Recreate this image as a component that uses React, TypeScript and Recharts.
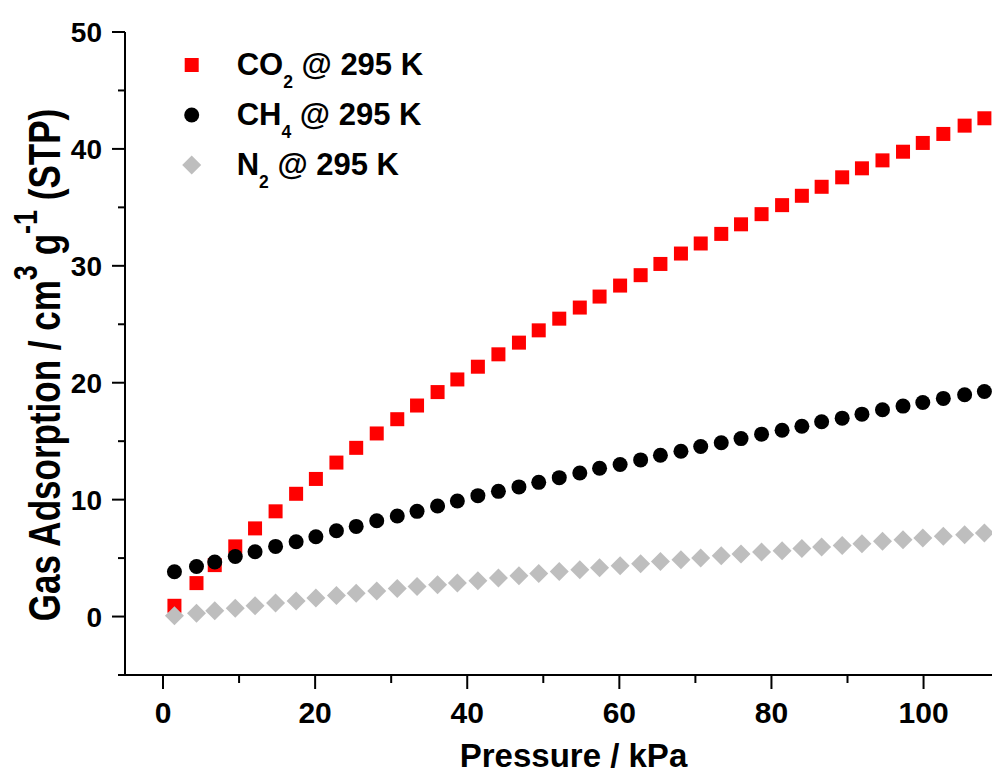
import React from 'react';
import { ScatterChart, Scatter, XAxis, YAxis, Legend, Label } from 'recharts';

// pressure (kPa) shared by all three isotherms
const pressure = [
  1.5, 4.4, 6.8, 9.5, 12.1, 14.8, 17.5, 20.1, 22.8, 25.4, 28.1, 30.8, 33.4, 36.1,
  38.7, 41.4, 44.1, 46.8, 49.4, 52.1, 54.8, 57.4, 60.1, 62.8, 65.4, 68.1, 70.7,
  73.4, 76.0, 78.7, 81.4, 84.0, 86.6, 89.3, 91.9, 94.6, 97.3, 99.9, 102.6, 105.4, 108.0,
];

const co2 = [
  0.92, 2.86, 4.4, 6.0, 7.54, 9.0, 10.5, 11.77, 13.17, 14.43, 15.66, 16.88, 18.05,
  19.2, 20.28, 21.37, 22.43, 23.43, 24.48, 25.48, 26.43, 27.37, 28.31, 29.2, 30.16,
  31.05, 31.91, 32.73, 33.55, 34.42, 35.19, 35.99, 36.76, 37.57, 38.34, 39.02, 39.76,
  40.51, 41.28, 41.99, 42.62,
];

const ch4 = [
  3.83, 4.28, 4.66, 5.14, 5.54, 6.0, 6.4, 6.83, 7.34, 7.71, 8.2, 8.6, 9.0, 9.46, 9.88,
  10.34, 10.71, 11.09, 11.48, 11.88, 12.28, 12.68, 13.0, 13.4, 13.8, 14.14, 14.54,
  14.86, 15.22, 15.6, 15.94, 16.28, 16.66, 16.97, 17.31, 17.69, 18.0, 18.31, 18.66,
  18.97, 19.25,
];

const n2 = [
  0.06, 0.29, 0.49, 0.72, 0.92, 1.15, 1.32, 1.58, 1.8, 2.0, 2.18, 2.4, 2.57, 2.72, 2.88,
  3.06, 3.29, 3.49, 3.68, 3.86, 4.0, 4.17, 4.34, 4.52, 4.71, 4.86, 5.0, 5.2, 5.35,
  5.52, 5.63, 5.83, 5.95, 6.08, 6.23, 6.43, 6.57, 6.72, 6.86, 7.0, 7.15,
];

const xMajorTicks = [0, 20, 40, 60, 80, 100];
const xMinorTicks = [10, 30, 50, 70, 90];
const yMajorTicks = [0, 10, 20, 30, 40, 50];
const yMinorTicks = [-5, 5, 15, 25, 35, 45];

const seriesFormula = ['CO', 'CH', 'N'];
const seriesSub = ['2', '4', '2'];
const seriesSuffix = '@ 295 K';

const FONT = "'Liberation Sans', Arial, Helvetica, sans-serif";
const RED = '#FF0000';
const BLACK = '#000000';
const GREY = '#BEBEBE';

const toPoints = (ys: number[]) => pressure.map((p, i) => ({ p, v: ys[i] }));

const square = (cx: number, cy: number) => (
  <rect x={cx - 7} y={cy - 7} width={14} height={14} fill={RED} />
);
const circle = (cx: number, cy: number) => <circle cx={cx} cy={cy} r={7.5} fill={BLACK} />;
const diamond = (cx: number, cy: number) => (
  <path d={`M${cx},${cy - 9.5}L${cx + 9.5},${cy}L${cx},${cy + 9.5}L${cx - 9.5},${cy}Z`} fill={GREY} />
);
const markers = [square, circle, diamond];

const YTick = (props: any) => {
  const { x, y, payload } = props;
  const major = yMajorTicks.includes(payload.value);
  return (
    <g>
      <line x1={x} x2={x - (major ? 13 : 7)} y1={y} y2={y} stroke={BLACK} strokeWidth={2} />
      {major && (
        <text x={x - 23} y={y + 10} textAnchor="end" fontFamily={FONT} fontWeight="bold" fontSize={28} fill={BLACK}>
          {payload.value}
        </text>
      )}
    </g>
  );
};

const XTick = (props: any) => {
  const { x, y, payload } = props;
  const major = xMajorTicks.includes(payload.value);
  return (
    <g>
      <line x1={x} x2={x} y1={y} y2={y + (major ? 14 : 8)} stroke={BLACK} strokeWidth={2} />
      {major && (
        <text x={x} y={y + 47.5} textAnchor="middle" fontFamily={FONT} fontWeight="bold" fontSize={30} fill={BLACK}>
          {payload.value}
        </text>
      )}
    </g>
  );
};

const LegendBox = () => (
  <svg width={290} height={160} style={{ display: 'block' }}>
    {seriesFormula.map((f, i) => (
      <g key={f + i}>
        {markers[i](21.7, 30 + i * 50)}
        <text x={66.7} y={40 + i * 50} fontFamily={FONT} fontWeight="bold" fontSize={31} fill={BLACK}>
          {f}
          <tspan fontSize={17.5} dy={13}>{seriesSub[i]}</tspan>
          <tspan dy={-13}>{' ' + seriesSuffix}</tspan>
        </text>
      </g>
    ))}
  </svg>
);

export default function App() {
  return (
    <div style={{ position: 'absolute', left: 0, top: 0, width: 992, height: 776, background: '#fff' }}>
      <ScatterChart width={992} height={776} margin={{ top: 32, right: 0, bottom: 0, left: 0 }}>
        <XAxis
          type="number"
          dataKey="p"
          domain={[-5, 109]}
          ticks={[...xMajorTicks, ...xMinorTicks].sort((a, b) => a - b)}
          interval={0}
          allowDataOverflow
          height={101}
          tickSize={0}
          tickMargin={0}
          tickLine={false}
          tick={<XTick />}
          axisLine={{ stroke: BLACK, strokeWidth: 2 }}
        >
          <Label
            content={() => (
              <text x={573.5} y={767} textAnchor="middle" fontFamily={FONT} fontWeight="bold" fontSize={33} fill={BLACK}>
                Pressure / kPa
              </text>
            )}
          />
        </XAxis>
        <YAxis
          type="number"
          dataKey="v"
          domain={[-5, 50]}
          ticks={[...yMajorTicks, ...yMinorTicks].sort((a, b) => a - b)}
          interval={0}
          allowDataOverflow
          width={125}
          tickSize={0}
          tickMargin={0}
          tickLine={false}
          tick={<YTick />}
          axisLine={{ stroke: BLACK, strokeWidth: 2 }}
        >
          <Label
            content={() => (
              <text
                transform="translate(60,365) rotate(-90) scale(0.796,1)"
                textAnchor="middle"
                fontFamily={FONT}
                fontWeight="bold"
                fontSize={44}
                fill={BLACK}
              >
                {'Gas Adsorption / cm'}
                <tspan fontSize={34} dy={-23}>3</tspan>
                <tspan fontSize={44} dy={23}>{' g'}</tspan>
                <tspan fontSize={34} dy={-23}>-1</tspan>
                <tspan fontSize={44} dy={23}>{' (STP)'}</tspan>
              </text>
            )}
          />
        </YAxis>
        <Legend
          layout="vertical"
          align="center"
          verticalAlign="middle"
          wrapperStyle={{ left: 170, top: 35, width: 290, height: 160 }}
          content={() => <LegendBox />}
        />
        <Scatter name="CO2" data={toPoints(co2)} isAnimationActive={false} shape={(p: any) => square(p.cx, p.cy)} />
        <Scatter name="CH4" data={toPoints(ch4)} isAnimationActive={false} shape={(p: any) => circle(p.cx, p.cy)} />
        <Scatter name="N2" data={toPoints(n2)} isAnimationActive={false} shape={(p: any) => diamond(p.cx, p.cy)} />
      </ScatterChart>
    </div>
  );
}
